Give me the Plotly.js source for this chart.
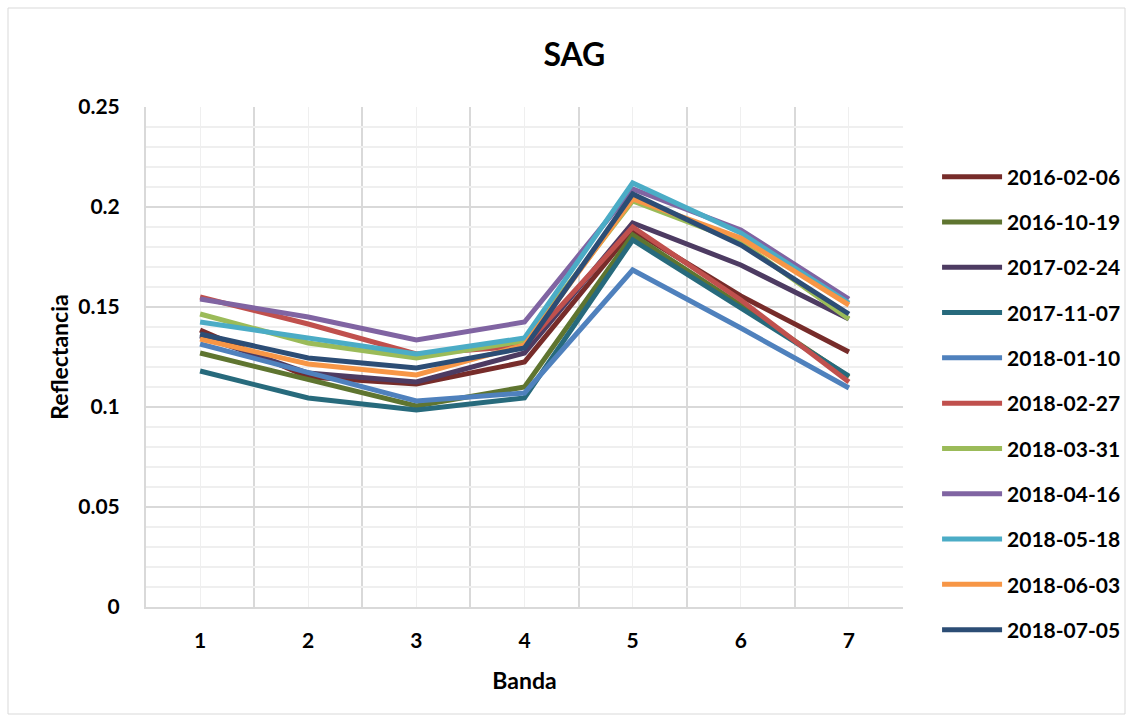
<!DOCTYPE html>
<html>
<head>
<meta charset="utf-8">
<script src="https://cdn.plot.ly/plotly-3.0.1.min.js"></script>
<style>html,body{margin:0;padding:0;background:#fff;}#chart{width:1133px;height:722px;}</style>
</head>
<body>
<div id="chart"></div>
<script>
const bands = [1, 2, 3, 4, 5, 6, 7];
const seriesNames = ["2016-02-06","2016-10-19","2017-02-24","2017-11-07","2018-01-10","2018-02-27","2018-03-31","2018-04-16","2018-05-18","2018-06-03","2018-07-05"];
const s20160206 = [0.1385, 0.1150, 0.1115, 0.1225, 0.1885, 0.1555, 0.1275];
const s20161019 = [0.1270, 0.1140, 0.1005, 0.1100, 0.1860, 0.1510, 0.1150];
const s20170224 = [0.1355, 0.1170, 0.1125, 0.1270, 0.1920, 0.1710, 0.1440];
const s20171107 = [0.1180, 0.1045, 0.0985, 0.1045, 0.1835, 0.1495, 0.1155];
const s20180110 = [0.1315, 0.1175, 0.1030, 0.1070, 0.1685, 0.1395, 0.1095];
const s20180227 = [0.1550, 0.1415, 0.1265, 0.1305, 0.1900, 0.1535, 0.1125];
const s20180331 = [0.1465, 0.1320, 0.1245, 0.1330, 0.2030, 0.1825, 0.1440];
const s20180416 = [0.1540, 0.1450, 0.1335, 0.1425, 0.2090, 0.1885, 0.1540];
const s20180518 = [0.1425, 0.1345, 0.1265, 0.1345, 0.2120, 0.1870, 0.1520];
const s20180603 = [0.1340, 0.1215, 0.1160, 0.1310, 0.2040, 0.1845, 0.1510];
const s20180705 = [0.1365, 0.1245, 0.1195, 0.1295, 0.2065, 0.1810, 0.1465];
const seriesValues = [s20160206, s20161019, s20170224, s20171107, s20180110, s20180227, s20180331, s20180416, s20180518, s20180603, s20180705];
const colors = ["#772C2A","#5F7530","#4D3B62","#276A7C","#4F81BD","#C0504D","#9BBB59","#8064A2","#4BACC6","#F79646","#2C4D75"];

const FONT = "Lato, 'Open Sans', sans-serif";
const traces = seriesNames.map((name, i) => ({
  type: "scatter",
  mode: "lines",
  name: name,
  x: bands,
  y: seriesValues[i],
  legendgroup: "g" + i,
  line: {color: colors[i], width: 5}
}));

const layout = {
  width: 1133,
  height: 722,
  margin: {l: 146, r: 230, t: 107, b: 115, autoexpand: false},
  paper_bgcolor: "#ffffff",
  plot_bgcolor: "#ffffff",
  font: {family: FONT, color: "#000", size: 21},
  title: {text: "<b>SAG</b>", x: 0.507, xref: "container", xanchor: "center", y: 0.94, yref: "container", yanchor: "top", font: {family: FONT, size: 32, color: "#000"}},
  showlegend: true,
  legend: {
    x: 1.045, xanchor: "left", y: 0.901, yanchor: "top",
    font: {family: FONT, size: 21, color: "#000", weight: "bold"},
    tracegroupgap: 15,
    itemwidth: 60,
    bgcolor: "rgba(0,0,0,0)"
  },
  xaxis: {
    range: [0.5, 7.5],
    tickvals: bands,
    ticktext: bands.map(String),
    tickfont: {family: FONT, size: 21, color: "#000", weight: "bold"},
    showgrid: true,
    gridcolor: "#efefef",
    gridwidth: 1,
    minor: {tickvals: [1.5, 2.5, 3.5, 4.5, 5.5, 6.5, 7.5], showgrid: true, gridcolor: "#d9d9d9", gridwidth: 2},
    zeroline: false,
    showline: true,
    linecolor: "#d9d9d9",
    linewidth: 2,
    ticks: "",
    ticklabelstandoff: 14,
    automargin: false,
    title: {text: "<b>Banda</b>", font: {family: FONT, size: 23, color: "#000"}, standoff: 22},
    fixedrange: true
  },
  yaxis: {
    range: [0, 0.25],
    dtick: 0.05,
    tick0: 0,
    tickfont: {family: FONT, size: 21, color: "#000", weight: "bold"},
    showgrid: true,
    gridcolor: "#d9d9d9",
    gridwidth: 2,
    minor: {dtick: 0.01, showgrid: true, gridcolor: "#efefef", gridwidth: 2},
    zeroline: false,
    showline: true,
    linecolor: "#d9d9d9",
    linewidth: 2,
    ticks: "",
    ticklabelstandoff: 20,
    automargin: false,
    title: {text: "<b>Reflectancia</b>", font: {family: FONT, size: 23, color: "#000"}, standoff: 3},
    fixedrange: true
  },
  shapes: [{
    type: "rect", xref: "paper", yref: "paper",
    x0: (8 - 146) / 757, x1: (1125 - 146) / 757,
    y0: (607 - 714) / 500, y1: (607 - 8) / 500,
    line: {color: "#d9d9d9", width: 1}, layer: "below"
  }]
};

Plotly.newPlot("chart", traces, layout, {displayModeBar: false, staticPlot: true});
</script>
</body>
</html>
